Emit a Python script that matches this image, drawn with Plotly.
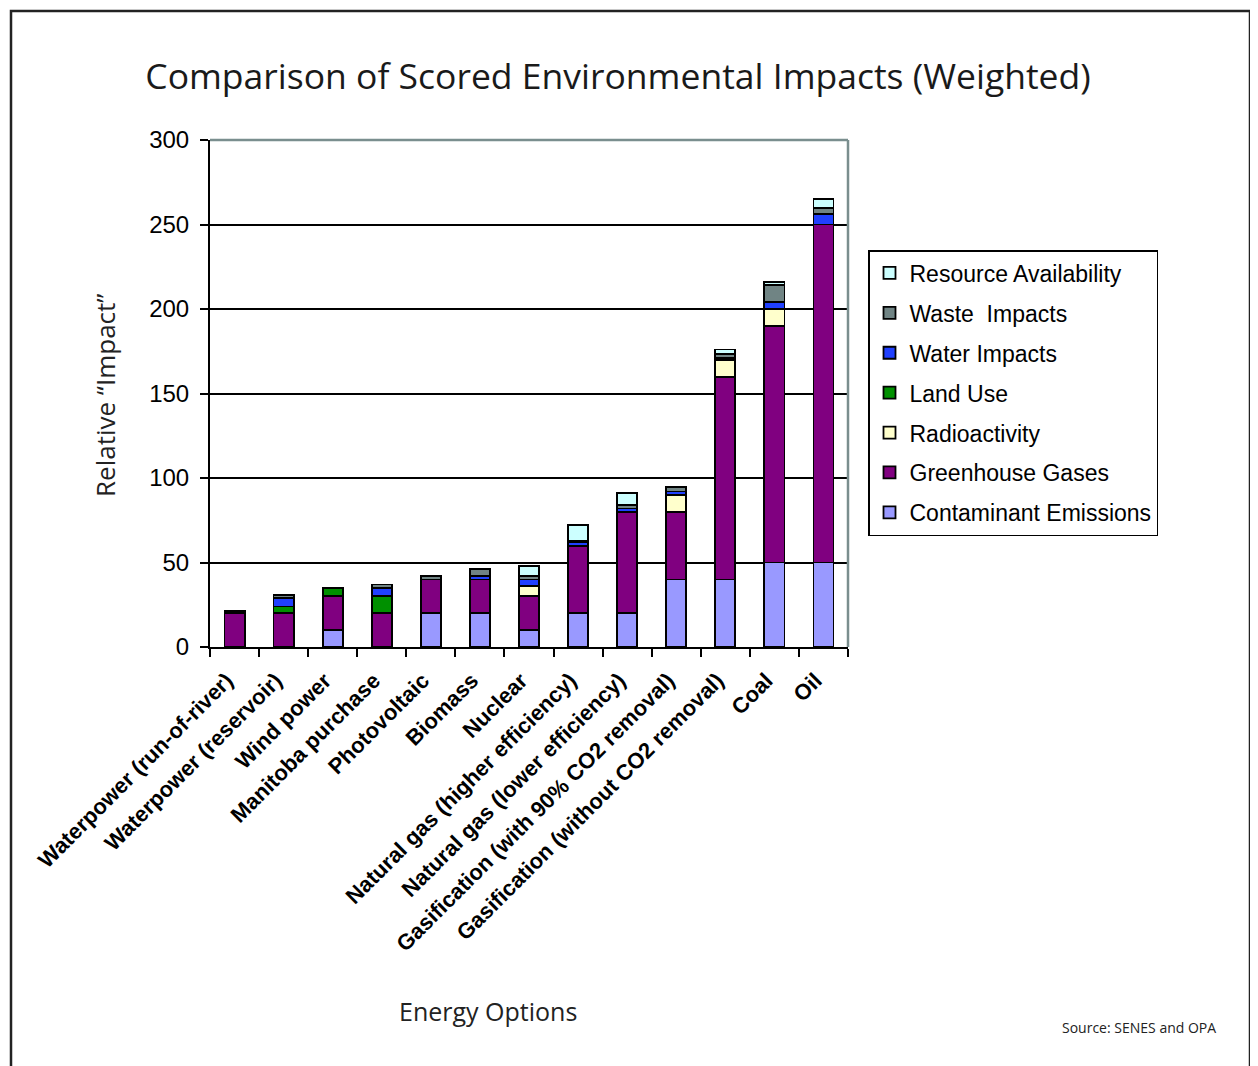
import plotly.graph_objects as go

categories = [
    "Waterpower (run-of-river)", "Waterpower (reservoir)", "Wind power",
    "Manitoba purchase", "Photovoltaic", "Biomass", "Nuclear",
    "Natural gas (higher efficiency)", "Natural gas (lower efficiency)",
    "Gasification (with 90% CO2 removal)", "Gasification (without CO2 removal)",
    "Coal", "Oil",
]

contaminant = [0, 0, 10, 0, 20, 20, 10, 20, 20, 40, 40, 50, 50]
greenhouse = [20, 20, 20, 20, 20, 20, 20, 40, 60, 40, 120, 140, 200]
radioactivity = [0, 0, 0, 0, 0, 0, 6, 0, 0, 10, 10, 10, 0]
land_use = [0, 4, 5, 10, 0, 0, 0, 0, 0, 0, 0, 0, 0]
water = [0, 5, 0, 5, 0, 2, 4, 2, 2, 2, 1, 4, 6]
waste = [1.5, 2, 0, 2, 2, 4, 2, 1, 2, 2.5, 2.5, 10, 4]
resource = [0, 0, 0, 0, 0, 0, 6, 9, 7, 0, 2.5, 2, 5]

series = [
    ("Contaminant Emissions", contaminant, "#9999FF"),
    ("Greenhouse Gases", greenhouse, "#800080"),
    ("Radioactivity", radioactivity, "#FFFFCC"),
    ("Land Use", land_use, "#009000"),
    ("Water Impacts", water, "#2040FF"),
    ("Waste  Impacts", waste, "#708484"),
    ("Resource Availability", resource, "#CCFFFF"),
]

fig = go.Figure()
for i, (name, vals, col) in enumerate(series):
    fig.add_trace(go.Bar(
        x=categories, y=[v if v else None for v in vals], name=name,
        marker=dict(color=col, line=dict(color="black", width=1.8)),
        legendgroup=f"g{i}", legendrank=100 - i,
    ))

OFF = 8  # page body margin offset
W, H = 1258 - OFF, 1066 - OFF
L, R, T, B = 210 - OFF, 848 - OFF, 140 - OFF, 647 - OFF
pw, ph = R - L, B - T

def px(x):
    return (x - OFF - L) / pw

def py(y):
    return (B - (y - OFF)) / ph

fig.update_layout(
    width=W, height=H,
    margin=dict(l=L, r=W - R, t=T, b=H - B, autoexpand=False),
    paper_bgcolor="white", plot_bgcolor="white",
    barmode="stack", bargap=0.59,
    showlegend=True,
    legend=dict(
        x=px(868), y=py(250), xanchor="left", yanchor="top",
        traceorder="grouped", tracegroupgap=7,
        font=dict(family="Liberation Sans, Arial", size=23, color="black"),
        bordercolor="black", borderwidth=1.5, bgcolor="white",
    ),
    title=dict(
        text="Comparison of Scored Environmental Impacts (Weighted)",
        x=px(618), xref="paper", xanchor="center",
        y=1 - (77 - OFF) / H, yanchor="middle",
        font=dict(family="Open Sans", size=35.5, color="#1a1a1a"),
    ),
    font=dict(family="Liberation Sans, Arial", color="black"),
)

fig.update_xaxes(
    type="category", showline=True, linecolor="black", linewidth=2,
    ticks="outside", tickson="boundaries", ticklen=8, tickwidth=2, tickcolor="black",
    tickangle=-45, ticklabelstandoff=10, ticklabelshift=-8,
    tickfont=dict(family="Liberation Sans, Arial", size=22, color="black", weight="bold"),
    showgrid=False,
)
fig.update_yaxes(
    range=[0, 300], dtick=50, showline=True, linecolor="black", linewidth=2,
    ticks="outside", ticklen=8, tickwidth=2, tickcolor="black",
    ticklabelstandoff=6,
    tickfont=dict(family="Liberation Sans, Arial", size=24, color="black"),
    showgrid=True, gridcolor="black", gridwidth=1.5,
    zeroline=False,
)

shapes = [
    dict(type="line", xref="paper", yref="paper", x0=0, x1=1, y0=1, y1=1,
         line=dict(color="#7a8e8e", width=2.5), layer="above"),
    dict(type="line", xref="paper", yref="paper", x0=1, x1=1, y0=0, y1=1,
         line=dict(color="#7a8e8e", width=2.5), layer="above"),
    dict(type="rect", xref="paper", yref="paper",
         x0=px(11), x1=px(1250), y0=py(1090), y1=py(11),
         line=dict(color="#222222", width=2.5), layer="below"),
    dict(type="rect", xref="paper", yref="paper",
         x0=px(1252), x1=px(1266), y0=py(1090), y1=py(16),
         fillcolor="#3a3a3a", line=dict(width=0), layer="below"),
]
fig.update_layout(shapes=shapes)

fig.add_annotation(
    text="Relative \u201cImpact\u201d", xref="paper", yref="paper",
    x=px(105), y=py(396), textangle=-90, showarrow=False,
    xanchor="center", yanchor="middle",
    font=dict(family="Open Sans", size=26, color="#222222"),
)
fig.add_annotation(
    text="Energy Options", xref="paper", yref="paper",
    x=px(488), y=py(1011), showarrow=False,
    xanchor="center", yanchor="middle",
    font=dict(family="Open Sans", size=25, color="#222222"),
)
fig.add_annotation(
    text="Source: SENES and OPA", xref="paper", yref="paper",
    x=px(1218), y=py(1027), showarrow=False,
    xanchor="right", yanchor="middle",
    font=dict(family="Open Sans", size=14, color="#222222"),
)

fig.write_html("out.html")
